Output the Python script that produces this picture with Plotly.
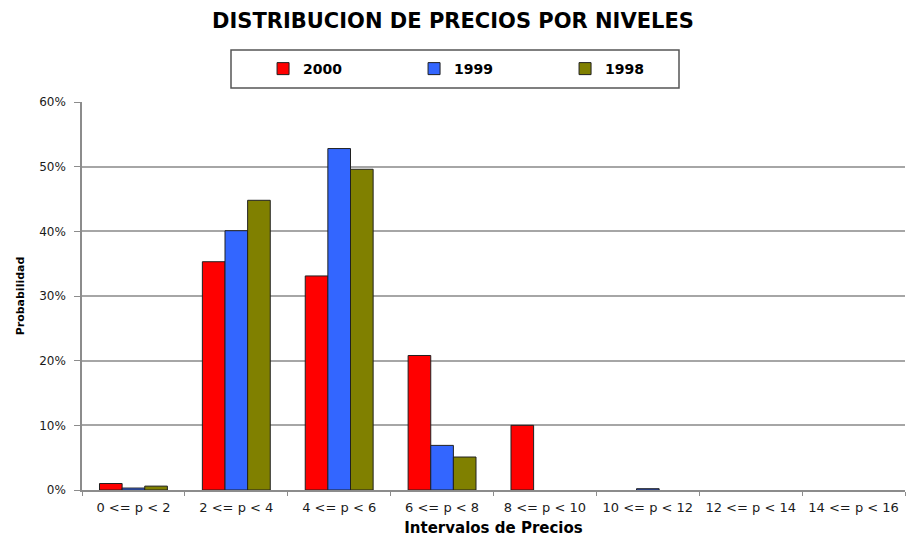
import plotly.graph_objects as go

# Price intervals and probability per year
categories = ["0 <= p < 2", "2 <= p < 4", "4 <= p < 6", "6 <= p < 8",
              "8 <= p < 10", "10 <= p < 12", "12 <= p < 14", "14 <= p < 16"]
p2000 = [0.010, 0.353, 0.331, 0.208, 0.100, 0.000, 0.000, 0.000]
p1999 = [0.003, 0.401, 0.528, 0.069, 0.000, 0.002, 0.000, 0.000]
p1998 = [0.006, 0.448, 0.496, 0.051, 0.000, 0.000, 0.000, 0.000]

series = [("2000", p2000, "#FF0000"),
          ("1999", p1999, "#3366FF"),
          ("1998", p1998, "#808000")]

FONT = "DejaVu Sans, Arial, sans-serif"

fig = go.Figure()
for name, vals, color in series:
    fig.add_trace(go.Bar(
        name=name, x=categories, y=vals,
        # empty intervals get no outline so nothing shows on the baseline
        marker=dict(color=color,
                    line=dict(color="#202020", width=[1 if v > 0 else 0 for v in vals])),
    ))

fig.update_layout(
    width=906, height=537,
    margin=dict(l=82, r=1, t=102, b=47),
    paper_bgcolor="white", plot_bgcolor="white",
    barmode="group", bargap=0.34, bargroupgap=0,
    font=dict(family=FONT, color="black"),
    title=dict(text="<b>DISTRIBUCION DE PRECIOS POR NIVELES</b>",
               x=0.5, xanchor="center", y=0.962, yanchor="middle",
               font=dict(size=21, family=FONT, color="black")),
    legend=dict(orientation="h", x=0.22, xanchor="left", y=1.085, yanchor="middle",
                bgcolor="rgba(0,0,0,0)", borderwidth=0,
                entrywidth=106, entrywidthmode="pixels",
                itemwidth=30,
                font=dict(size=14, family=FONT, color="black", weight="bold")),
    shapes=[dict(type="rect", xref="paper", yref="paper",
                 x0=(231 - 82) / 823, x1=(679 - 82) / 823,
                 y0=(490 - 88) / 388, y1=(490 - 50) / 388,
                 line=dict(color="#555555", width=1.5), fillcolor="rgba(0,0,0,0)")],
)

fig.update_xaxes(
    type="category",
    showline=True, linecolor="#8c8c8c", linewidth=1.5,
    ticks="outside", tickson="boundaries", ticklen=4, tickcolor="#8c8c8c",
    ticklabelstandoff=5,
    tickfont=dict(size=13, family=FONT, color="#1a1a1a"),
    title=dict(text="<b>Intervalos de Precios</b>", standoff=8,
               font=dict(size=15, family=FONT, color="black")),
    showgrid=False,
)
fig.update_yaxes(
    range=[0, 0.6], dtick=0.1, tickformat=".0%",
    showline=True, linecolor="#8c8c8c", linewidth=1.5,
    ticks="outside", ticklen=6, tickcolor="#8c8c8c", ticklabelstandoff=6,
    tickfont=dict(size=12, family=FONT, color="#1a1a1a"),
    showgrid=True, gridcolor="#a6a6a6", gridwidth=1.5,
    zeroline=False,
    title=dict(text="<b>Probabilidad</b>", standoff=12,
               font=dict(size=11, family=FONT, color="black")),
)

fig.write_html("out.html")
